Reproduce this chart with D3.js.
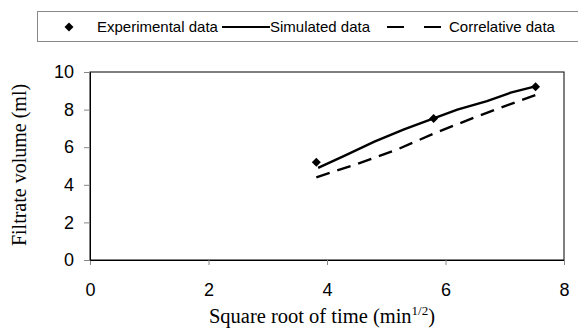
<!DOCTYPE html>
<html lang="en">
<head>
<meta charset="UTF-8">
<title>Filtrate volume</title>
<style>
  * { margin: 0; padding: 0; }
  body { background: #fff; }
  svg { display: block; }
  .tick text { font-family: "Liberation Sans", Arial, sans-serif; font-size: 18px; fill: #000; }
  .tick line { stroke: #888; }
</style>
<script src="https://cdn.jsdelivr.net/npm/d3@7/dist/d3.min.js"></script>
</head>
<body>
<div id="chart"></div>
<script>
// experimental points
var expX = [3.82, 5.8, 7.52];
var expY = [5.2, 7.53, 9.22];
// simulated curve
var simX = [3.85, 4.3, 4.8, 5.3, 5.8, 6.2, 6.7, 7.1, 7.5];
var simY = [4.9, 5.55, 6.3, 6.95, 7.53, 8.0, 8.45, 8.9, 9.22];
// correlative curve
var corX = [3.82, 4.5, 5.2, 5.8, 6.5, 7.52];
var corY = [4.4, 5.1, 5.9, 6.72, 7.6, 8.78];
var xTicks = [0, 2, 4, 6, 8];
var yTicks = [0, 2, 4, 6, 8, 10];

var w = 578, h = 331;
var pLeft = 90, pRight = 564, pTop = 72, pBottom = 260;

var svg = d3.select('#chart').append('svg')
    .attr('width', w)
    .attr('height', h);

var x = d3.scaleLinear().domain([0, 8]).range([pLeft, pRight]);
var y = d3.scaleLinear().domain([0, 10]).range([pBottom, pTop]);

// plot frame
svg.append('rect')
    .attr('x', pLeft).attr('y', pTop)
    .attr('width', pRight - pLeft).attr('height', pBottom - pTop)
    .attr('fill', 'none').attr('stroke', '#000').attr('stroke-width', 1);

var xAxis = svg.append('g')
    .attr('transform', 'translate(0,' + pBottom + ')')
    .call(d3.axisBottom(x).tickValues(xTicks).tickSize(5).tickPadding(18));
xAxis.select('.domain').attr('stroke', '#000');

var yAxis = svg.append('g')
    .attr('transform', 'translate(' + pLeft + ',0)')
    .call(d3.axisLeft(y).tickValues(yTicks).tickSize(6).tickPadding(10));
yAxis.select('.domain').attr('stroke', '#000');

// axis titles
svg.append('text')
    .attr('x', 322)
    .attr('y', 323)
    .attr('text-anchor', 'middle')
    .style('font-family', '"Liberation Serif", "Times New Roman", serif')
    .style('font-size', '20.5px')
    .html('Square root of time (min<tspan dy="-8" font-size="13px">1/2</tspan><tspan dy="8">)</tspan>');

svg.append('text')
    .attr('transform', 'translate(26,' + 165 + ') rotate(-90)')
    .attr('text-anchor', 'middle')
    .style('font-family', '"Liberation Serif", "Times New Roman", serif')
    .style('font-size', '20px')
    .text('Filtrate volume (ml)');

var line = d3.line().x(d => x(d[0])).y(d => y(d[1]));

svg.append('path')
    .datum(simX.map((v, i) => [v, simY[i]]))
    .attr('d', line)
    .attr('fill', 'none').attr('stroke', '#000').attr('stroke-width', 2.4);

svg.append('path')
    .datum(corX.map((v, i) => [v, corY[i]]))
    .attr('d', line)
    .attr('fill', 'none').attr('stroke', '#000').attr('stroke-width', 2.4)
    .attr('stroke-dasharray', '14,8');

// diamond = square turned 45 degrees
var diamond = 'M0,-4.5L4.5,0L0,4.5L-4.5,0Z';
svg.selectAll('.pt')
    .data(expX.map((v, i) => [v, expY[i]]))
    .enter().append('path')
    .attr('class', 'pt')
    .attr('d', diamond)
    .attr('transform', d => 'translate(' + x(d[0]) + ',' + y(d[1]) + ')')
    .attr('fill', '#000');

// legend
var lg = svg.append('g');
lg.append('rect')
    .attr('x', 37.5).attr('y', 11.5)
    .attr('width', 545).attr('height', 30)
    .attr('fill', '#fff').attr('stroke', '#888');
lg.append('path')
    .attr('d', diamond)
    .attr('transform', 'translate(69,27)')
    .attr('fill', '#000');
var lgFont = '"Liberation Sans", Arial, sans-serif';
lg.append('text').attr('x', 97).attr('y', 32)
    .style('font-family', lgFont).style('font-size', '15px')
    .text('Experimental data');
lg.append('line').attr('x1', 222).attr('x2', 270).attr('y1', 27).attr('y2', 27)
    .attr('stroke', '#000').attr('stroke-width', 2);
lg.append('text').attr('x', 270).attr('y', 32)
    .style('font-family', lgFont).style('font-size', '15px')
    .text('Simulated data');
lg.append('line').attr('x1', 387).attr('x2', 442).attr('y1', 27).attr('y2', 27)
    .attr('stroke', '#000').attr('stroke-width', 2)
    .attr('stroke-dasharray', '17,20');
lg.append('text').attr('x', 449).attr('y', 32)
    .style('font-family', lgFont).style('font-size', '15px')
    .text('Correlative data');
</script>
</body>
</html>
